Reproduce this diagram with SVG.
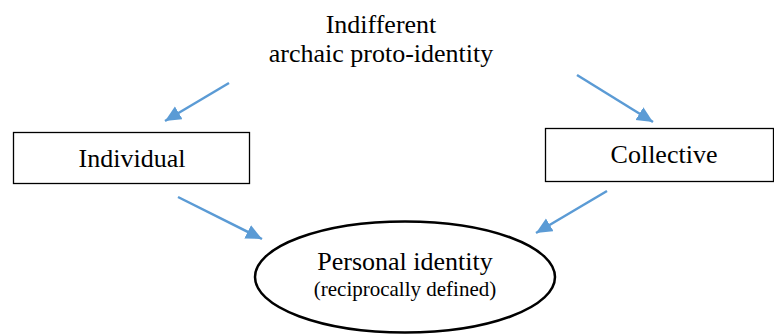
<svg xmlns="http://www.w3.org/2000/svg" width="774" height="334" viewBox="0 0 774 334">
<style>
.t{font-family:"Liberation Serif","Times New Roman",serif;fill:#000;text-anchor:middle}
.box{fill:#fff;stroke:#000;stroke-width:1.3}
.con{stroke:#5B9BD5;stroke-width:2.5;fill:none}
</style>
<defs>
<marker id="ah" markerUnits="userSpaceOnUse" markerWidth="18" markerHeight="16" refX="16" refY="7.5" orient="auto">
<path d="M0,0 L16,7.5 L0,15 z" fill="#5B9BD5"/>
</marker>
</defs>
<rect width="774" height="334" fill="#fff"/>
<g id="connectors">
<line class="con" x1="229" y1="83" x2="165" y2="121" marker-end="url(#ah)"/>
<line class="con" x1="577" y1="75" x2="653" y2="122" marker-end="url(#ah)"/>
<line class="con" x1="178" y1="197" x2="262" y2="239" marker-end="url(#ah)"/>
<line class="con" x1="607" y1="191" x2="536" y2="233" marker-end="url(#ah)"/>
</g>
<g id="proto">
<text class="t" x="381" y="33" font-size="26">Indifferent</text>
<text class="t" x="381" y="62" font-size="26">archaic proto-identity</text>
</g>
<g id="individual">
<rect class="box" x="13.5" y="132.5" width="236" height="51"/>
<text class="t" x="132" y="167" font-size="26">Individual</text>
</g>
<g id="collective">
<rect class="box" x="545.5" y="128.5" width="228" height="53"/>
<text class="t" x="664" y="163" font-size="26">Collective</text>
</g>
<g id="personal">
<ellipse cx="405" cy="277" rx="150" ry="55.5" fill="#fff" stroke="#000" stroke-width="2.5"/>
<text class="t" x="405" y="270" font-size="26">Personal identity</text>
<text class="t" x="405" y="296" font-size="21">(reciprocally defined)</text>
</g>
</svg>
